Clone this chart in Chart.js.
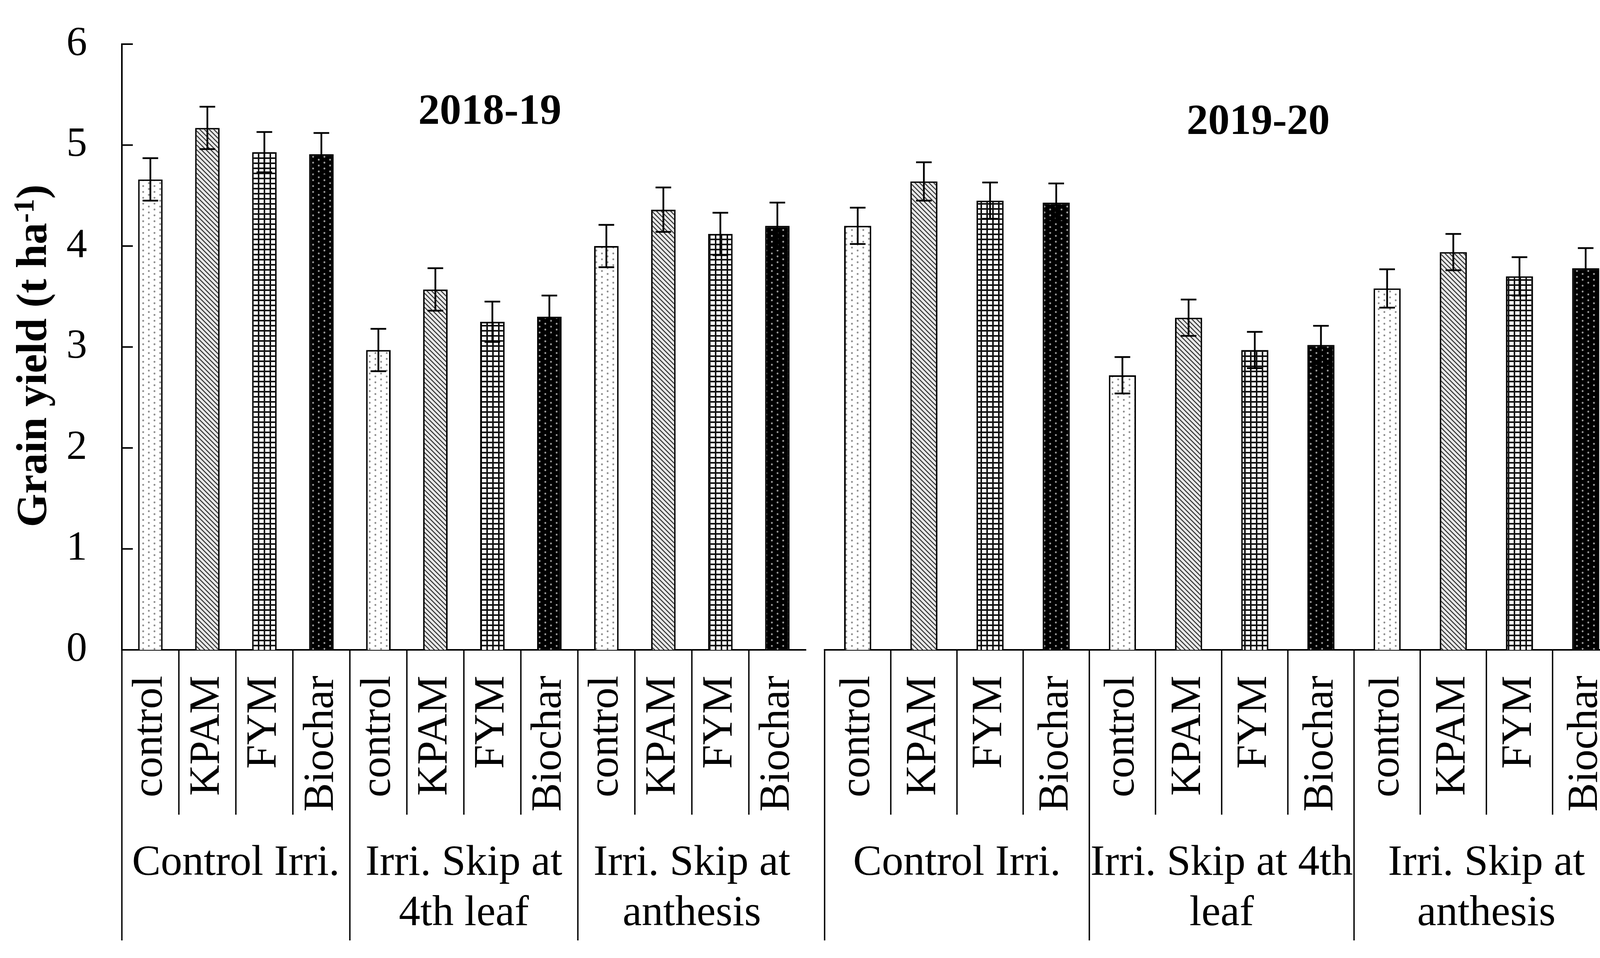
<!DOCTYPE html>
<html>
<head>
<meta charset="utf-8">
<title>Grain yield</title>
<script src="https://cdn.jsdelivr.net/npm/chart.js@4.4.1/dist/chart.umd.min.js"></script>
<style>
  html, body { margin: 0; padding: 0; background: #fff; }
  #page { position: relative; width: 4207px; height: 2453px; overflow: hidden; }
  canvas { position: absolute; top: 0; }
  #left { left: 0; }
  #right { left: 2090px; }
</style>
</head>
<body>
<div id="page">
  <canvas id="left" width="2090" height="2453"></canvas>
  <canvas id="right" width="2117" height="2453"></canvas>
</div>
<script>
const tickLabels = [
  "control", "KPAM", "FYM", "Biochar",
  "control", "KPAM", "FYM", "Biochar",
  "control", "KPAM", "FYM", "Biochar",
];
const groups2018 = [["Control Irri."], ["Irri. Skip at", "4th leaf"], ["Irri. Skip at", "anthesis"]];
const groups2019 = [["Control Irri."], ["Irri. Skip at 4th", "leaf"], ["Irri. Skip at", "anthesis"]];

const yield2018 = [4.66, 5.17, 4.93, 4.91, 2.97, 3.57, 3.25, 3.30, 4.00, 4.36, 4.12, 4.20];
const err2018 = [0.21, 0.21, 0.20, 0.21, 0.21, 0.21, 0.20, 0.21, 0.21, 0.22, 0.21, 0.23];
const yield2019 = [4.20, 4.64, 4.45, 4.43, 2.72, 3.29, 2.97, 3.02, 3.58, 3.94, 3.70, 3.78];
const err2019 = [0.18, 0.19, 0.18, 0.19, 0.18, 0.18, 0.18, 0.19, 0.19, 0.18, 0.19, 0.20];

const yTicks = [0, 1, 2, 3, 4, 5, 6];

const SERIF = "'Liberation Serif', 'Times New Roman', serif";
Chart.defaults.font.family = SERIF;
Chart.defaults.color = "#000";

function makePattern(kind) {
  const c = document.createElement("canvas");
  const g = c.getContext("2d");
  if (kind === "dots" || kind === "darkdots") {
    c.width = 29;
    c.height = 15;
    g.fillStyle = kind === "dots" ? "#fff" : "#000";
    g.fillRect(0, 0, 29, 15);
    g.fillStyle = kind === "dots" ? "#8c8c8c" : "#9c9c9c";
    [[4, 4], [18.5, 11.5]].forEach(([px, py]) => {
      g.beginPath();
      g.arc(px, py, 2.4, 0, Math.PI * 2);
      g.fill();
    });
  } else if (kind === "hatch") {
    c.width = 12;
    c.height = 12;
    g.fillStyle = "#e8e8e8";
    g.fillRect(0, 0, 12, 12);
    g.strokeStyle = "#333";
    g.lineWidth = 2.6;
    g.beginPath();
    [-12, 0, 12].forEach((k) => {
      g.moveTo(k - 2, -2);
      g.lineTo(k + 14, 14);
    });
    g.stroke();
  } else {
    c.width = 15;
    c.height = 13;
    g.fillStyle = "#fff";
    g.fillRect(0, 0, 15, 13);
    g.fillStyle = "#111";
    g.fillRect(0, 0, 15, 4);
    g.fillRect(0, 0, 4, 13);
  }
  return document.createElement("canvas").getContext("2d").createPattern(c, "repeat");
}

const fills = [makePattern("dots"), makePattern("hatch"), makePattern("grid"), makePattern("darkdots")];

const errorBars = {
  id: "errorBars",
  afterDatasetsDraw(chart, args, o) {
    const { ctx, scales: { y } } = chart;
    const values = chart.data.datasets[0].data;
    ctx.save();
    ctx.strokeStyle = "#000";
    ctx.lineWidth = 4.5;
    chart.getDatasetMeta(0).data.forEach((bar, i) => {
      const top = y.getPixelForValue(values[i] + o.errors[i]);
      const bot = y.getPixelForValue(values[i] - o.errors[i]);
      ctx.beginPath();
      ctx.moveTo(bar.x, top);
      ctx.lineTo(bar.x, bot);
      ctx.moveTo(bar.x - 20, top);
      ctx.lineTo(bar.x + 20, top);
      ctx.moveTo(bar.x - 20, bot);
      ctx.lineTo(bar.x + 20, bot);
      ctx.stroke();
    });
    ctx.restore();
  },
};

function drawYTitle(ctx, cx, cy) {
  const main = "bold 110px " + SERIF;
  const sup = "bold 74px " + SERIF;
  const parts = [
    { t: "Grain yield (t ha", f: main, dy: 36 },
    { t: "-1", f: sup, dy: 4 },
    { t: ")", f: main, dy: 36 },
  ];
  let total = 0;
  parts.forEach((p) => {
    ctx.font = p.f;
    p.w = ctx.measureText(p.t).width;
    total += p.w;
  });
  ctx.save();
  ctx.translate(cx, cy);
  ctx.rotate(-Math.PI / 2);
  ctx.textAlign = "left";
  ctx.textBaseline = "alphabetic";
  let px = -total / 2;
  parts.forEach((p) => {
    ctx.font = p.f;
    ctx.fillText(p.t, px, p.dy);
    px += p.w;
  });
  ctx.restore();
}

const decor = {
  id: "decor",
  afterDraw(chart, args, o) {
    const { ctx, chartArea: a, scales: { x, y } } = chart;
    ctx.save();
    ctx.strokeStyle = "#000";
    ctx.fillStyle = "#000";

    if (o.yTicks) {
      ctx.lineWidth = 4;
      yTicks.forEach((v) => {
        const py = y.getPixelForValue(v);
        ctx.beginPath();
        ctx.moveTo(a.left, py);
        ctx.lineTo(a.left + 28, py);
        ctx.stroke();
      });
    }

    // box lines under the axis
    ctx.lineWidth = 3.5;
    const n = tickLabels.length;
    const last = o.closeRight ? n : n - 1;
    for (let k = 0; k <= last; k++) {
      const px = x.getPixelForValue(k - 0.5);
      ctx.beginPath();
      ctx.moveTo(px, a.bottom);
      ctx.lineTo(px, k % 4 === 0 ? 2408 : 2086);
      ctx.stroke();
    }

    ctx.font = "110px " + SERIF;
    ctx.textAlign = "center";
    ctx.textBaseline = "middle";
    o.groups.forEach((lines, g) => {
      const cx = x.getPixelForValue(g * 4 + 1.5);
      lines.forEach((line, j) => ctx.fillText(line, cx, 2211 + j * 129));
    });

    ctx.font = "bold 110px " + SERIF;
    ctx.fillText(o.year, o.yearX, o.yearY);

    if (o.yTitle) drawYTitle(ctx, 82, 911);
    ctx.restore();
  },
};

function buildChart(id, values, errors, groups, extra) {
  return new Chart(document.getElementById(id), {
    type: "bar",
    data: {
      labels: tickLabels,
      datasets: [
        {
          data: values,
          backgroundColor: values.map((v, i) => fills[i % 4]),
          borderColor: "#000",
          borderWidth: 4,
          barPercentage: extra.barPct,
          categoryPercentage: 1,
        },
      ],
    },
    options: {
      responsive: false,
      animation: false,
      devicePixelRatio: 1,
      layout: { padding: { left: extra.padLeft, right: extra.padRight, top: 113, bottom: 0 } },
      plugins: {
        legend: { display: false },
        tooltip: { enabled: false },
        errorBars: { errors },
        decor: {
          groups,
          year: extra.year,
          yearX: extra.yearX,
          yearY: extra.yearY,
          yTicks: extra.showY,
          yTitle: extra.showY,
          closeRight: extra.closeRight,
        },
      },
      scales: {
        x: {
          grid: { display: false, drawTicks: false },
          border: { display: true, color: "#000", width: 4 },
          ticks: { autoSkip: false, minRotation: 90, maxRotation: 90, padding: 66, font: { size: 110 } },
          afterFit(s) {
            s.height = 2453 - 1664;
            s.paddingLeft = 0;
            s.paddingRight = 0;
          },
        },
        y: {
          display: extra.showY,
          min: 0,
          max: 6,
          grid: { display: false, drawTicks: false },
          border: { display: true, color: "#000", width: 4 },
          ticks: { stepSize: 1, padding: 89, font: { size: 106 } },
          afterFit(s) {
            s.width = extra.showY ? 312 : 0;
            s.paddingTop = 0;
            s.paddingBottom = 0;
          },
        },
      },
    },
    plugins: [errorBars, decor],
  });
}

buildChart("left", yield2018, err2018, groups2018, {
  barPct: 0.43, padLeft: 0, padRight: 27, showY: true, closeRight: false,
  year: "2018-19", yearX: 1254, yearY: 289,
});
buildChart("right", yield2019, err2019, groups2019, {
  barPct: 0.41, padLeft: 21, padRight: 63, showY: false, closeRight: true,
  year: "2019-20", yearX: 1131, yearY: 315,
});
</script>
</body>
</html>
